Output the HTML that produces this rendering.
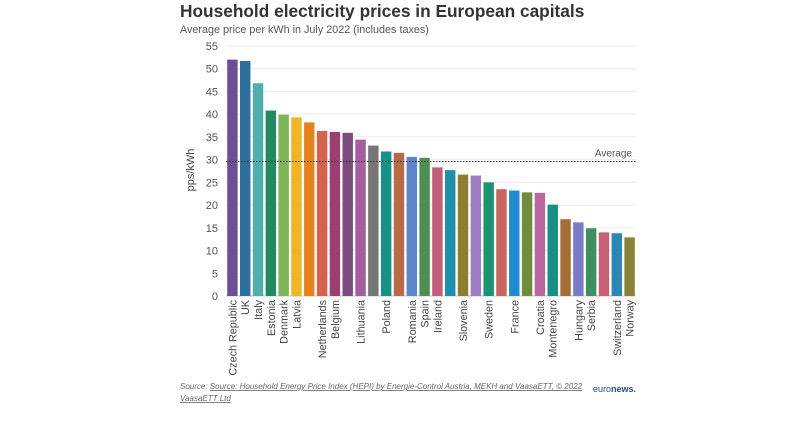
<!DOCTYPE html>
<html><head><meta charset="utf-8"><style>
body{margin:0;background:#fff;width:800px;height:418px;overflow:hidden;font-family:"Liberation Sans",sans-serif}
</style></head><body>
<svg id="chart" width="800" height="418" xmlns="http://www.w3.org/2000/svg">
<text x="180" y="17" font-size="17.3" font-weight="bold" fill="#333">Household electricity prices in European capitals</text>
<text x="180" y="33" font-size="10.8" fill="#555">Average price per kWh in July 2022 (includes taxes)</text>
<g id="grid"></g><g id="bars"></g><g id="labels"></g>
<text transform="translate(194,170) rotate(-90)" text-anchor="middle" font-size="11" fill="#444">pps/kWh</text>
<text x="180" y="389" font-size="8" font-style="italic" fill="#666">Source: <tspan text-decoration="underline">Source: Household Energy Price Index (HEPI) by Energie-Control Austria, MEKH and VaasaETT, © 2022</tspan></text>
<text x="180" y="401" font-size="8" font-style="italic" fill="#666" text-decoration="underline">VaasaETT Ltd</text>
<text x="593" y="392" font-size="9" fill="#1f4f8f">euro<tspan font-weight="bold">news.</tspan></text>
</svg>
<script>
const categories=["Czech Republic","UK","Italy","Estonia","Denmark","Latvia","","Netherlands","Belgium","","Lithuania","","Poland","","Romania","Spain","Ireland","","Slovenia","","Sweden","","France","","Croatia","Montenegro","","Hungary","Serbia","","Switzerland","Norway"];
const values=[52.0,51.7,46.8,40.8,39.9,39.3,38.2,36.3,36.1,35.9,34.4,33.1,31.8,31.5,30.6,30.4,28.3,27.7,26.7,26.5,25.0,23.5,23.2,22.8,22.7,20.1,16.9,16.2,14.9,14.0,13.8,12.9];
const colors=["#6b4f96","#2f6f9b","#4fb0ab","#218a60","#7eb45a","#efb525","#e5831f","#d5614f","#9d3f72","#7a4b7b","#a45ea0","#767676","#179286","#b76b48","#5e85cc","#4f8e50","#c25d7c","#1f8fab","#8d7f31","#9d7dc3","#1c9372","#c86461","#218bcf","#6f8d3c","#b8679f","#178f82","#a56f37","#7a7cc7","#3e9061","#c76075","#2b87b5","#8a8337"];
const yTicks=[0,5,10,15,20,25,30,35,40,45,50,55];
const average=[29.6];
const X0=226,X1=636,Y0=296,yMax=55,H=250;
const y=v=>Y0-v/yMax*H;
const step=(X1-X0)/categories.length;
const x=i=>X0+i*step;
const NS="http://www.w3.org/2000/svg";
function mk(t,a,p){const e=document.createElementNS(NS,t);for(const k in a)e.setAttribute(k,a[k]);p.appendChild(e);return e;}
const g=document.getElementById('grid'),b=document.getElementById('bars'),l=document.getElementById('labels');
yTicks.forEach(t=>{
 const ln=mk('line',{x1:X0,x2:X1,y1:y(t),y2:y(t),stroke:t?'#ececec':'#ccc','stroke-width':1},g);
 
 
 const tx=mk('text',{x:X0-8,y:y(t)+4,'text-anchor':'end','font-size':11,fill:'#555'},g);
 tx.textContent=t;
 
 
});
values.forEach((v,i)=>{
 const r=mk('rect',{x:x(i)+1.2,y:y(v),width:step-2.4,height:Y0-y(v),fill:colors[i]},b);
 
 
 if(categories[i]){
  const cx=x(i)+step/2+4;
  const t=mk('text',{transform:`translate(${cx},300) rotate(-90)`,'text-anchor':'end','font-size':10.8,fill:'#444'},l);
  t.textContent=categories[i];
  
  
 }
});
const av=mk('line',{x1:X0,x2:X1,y1:y(average[0]),y2:y(average[0]),stroke:'#333','stroke-width':1,'stroke-dasharray':'1.5,1.5'},b);


const at=mk('text',{x:X1-4,y:y(average[0])-5,'text-anchor':'end','font-size':10,fill:'#555'},b);
at.textContent='Average';


</script>
</body></html>
